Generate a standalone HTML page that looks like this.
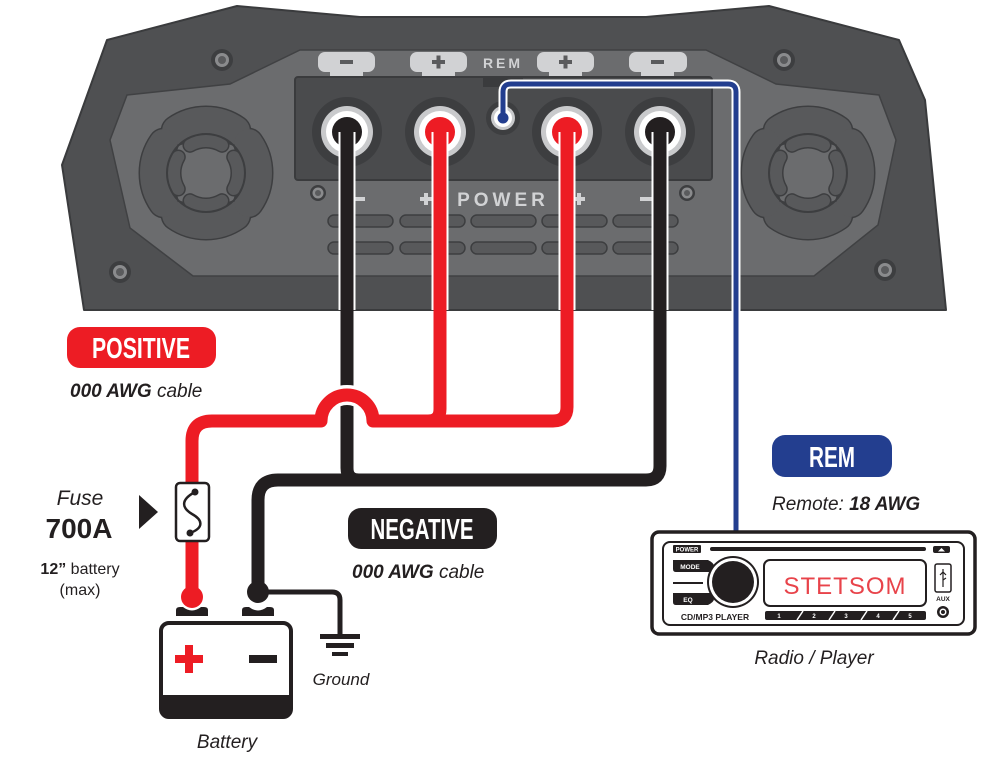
<!DOCTYPE html>
<html><head><meta charset="utf-8"><style>
html,body{margin:0;padding:0;background:#fff;}
svg{display:block;}
text{font-family:"Liberation Sans",sans-serif;}
.nar{font-family:"Liberation Sans Narrow","Liberation Sans",sans-serif;font-weight:bold;}
</style></head><body>
<svg width="998" height="757" viewBox="0 0 998 757" xmlns="http://www.w3.org/2000/svg">
<defs>
<g id="grill">
 <g fill="none" stroke-linecap="round">
  <g stroke="#3d3e40" stroke-width="31">
   <path d="M-29.8 -42.6 A52 52 0 0 1 29.8 -42.6"/><path d="M-29.8 42.6 A52 52 0 0 0 29.8 42.6"/>
   <path d="M-42.6 -29.8 A52 52 0 0 0 -42.6 29.8"/><path d="M42.6 -29.8 A52 52 0 0 1 42.6 29.8"/>
  </g>
  <g stroke="#58595b" stroke-width="28">
   <path d="M-29.8 -42.6 A52 52 0 0 1 29.8 -42.6"/><path d="M-29.8 42.6 A52 52 0 0 0 29.8 42.6"/>
   <path d="M-42.6 -29.8 A52 52 0 0 0 -42.6 29.8"/><path d="M42.6 -29.8 A52 52 0 0 1 42.6 29.8"/>
  </g>
  <circle r="39" stroke="#3d3e40" stroke-width="2"/>
  <g stroke="#3d3e40" stroke-width="15">
   <path d="M-16 -27.7 A32 32 0 0 1 16 -27.7"/><path d="M-16 27.7 A32 32 0 0 0 16 27.7"/>
   <path d="M-27.7 -16 A32 32 0 0 0 -27.7 16"/><path d="M27.7 -16 A32 32 0 0 1 27.7 16"/>
  </g>
  <g stroke="#58595b" stroke-width="12">
   <path d="M-16 -27.7 A32 32 0 0 1 16 -27.7"/><path d="M-16 27.7 A32 32 0 0 0 16 27.7"/>
   <path d="M-27.7 -16 A32 32 0 0 0 -27.7 16"/><path d="M27.7 -16 A32 32 0 0 1 27.7 16"/>
  </g>
 </g>
</g>
<g id="screw"><circle r="11" fill="#3d3e40"/><circle r="7" fill="#8a8b8d"/><circle r="4" fill="#5a5b5d"/></g>
<g id="sscrew"><circle r="8" fill="#3d3e40"/><circle r="5.5" fill="#8a8b8d"/><circle r="3" fill="#5a5b5d"/></g>
</defs>

<!-- amplifier body -->
<path d="M107 40 L237 6 L360 17 L646 17 L769 6 L899 40 L925 100 L946 310 L84 310 L62 165 Z" fill="#4f5052" stroke="#3a3b3d" stroke-width="2" stroke-linejoin="round"/>
<path d="M127 95 L230 84 L300 50 L706 50 L776 84 L879 95 L896 140 L878 225 L814 276 L193 276 L130 228 L110 140 Z" fill="#6b6c6e" stroke="#404143" stroke-width="1.5"/>
<use href="#grill" x="206" y="173"/>
<use href="#grill" x="808" y="173"/>
<use href="#screw" x="222" y="60"/><use href="#screw" x="784" y="60"/>
<use href="#screw" x="120" y="272"/><use href="#screw" x="885" y="270"/>
<use href="#sscrew" x="318" y="193"/><use href="#sscrew" x="687" y="193"/>

<!-- tabs -->
<g fill="#d1d2d4">
 <rect x="318" y="52" width="57" height="20" rx="7"/><rect x="330" y="70" width="33" height="8" rx="2"/>
 <rect x="410" y="52" width="57" height="20" rx="7"/><rect x="422" y="70" width="33" height="8" rx="2"/>
 <rect x="537" y="52" width="57" height="20" rx="7"/><rect x="549" y="70" width="33" height="8" rx="2"/>
 <rect x="629" y="52" width="58" height="20" rx="7"/><rect x="641" y="70" width="33" height="8" rx="2"/>
</g>
<g fill="#5a5b5d">
 <rect x="340" y="60" width="13" height="4"/>
 <rect x="432" y="60" width="13" height="4"/><rect x="436.5" y="55.5" width="4" height="13"/>
 <rect x="559" y="60" width="13" height="4"/><rect x="563.5" y="55.5" width="4" height="13"/>
 <rect x="651" y="60" width="13" height="4"/>
</g>
<text x="503" y="68" fill="#d1d2d4" font-size="14" font-weight="bold" text-anchor="middle" letter-spacing="3">REM</text>

<!-- terminal block -->
<rect x="295" y="77" width="417" height="103" rx="3" fill="#4a4b4d" stroke="#3a3b3d" stroke-width="2"/>
<rect x="483" y="77" width="40" height="10" fill="#3a3b3d"/>
<g>
 <circle cx="347" cy="132" r="35" fill="#3d3e40"/><circle cx="347" cy="132" r="26" fill="#c9cacc"/><circle cx="347" cy="132" r="21" fill="#fff"/><circle cx="347" cy="132" r="15" fill="#231f20"/>
 <circle cx="440" cy="132" r="35" fill="#3d3e40"/><circle cx="440" cy="132" r="26" fill="#c9cacc"/><circle cx="440" cy="132" r="21" fill="#fff"/><circle cx="440" cy="132" r="15" fill="#ed1c24"/>
 <circle cx="567" cy="132" r="35" fill="#3d3e40"/><circle cx="567" cy="132" r="26" fill="#c9cacc"/><circle cx="567" cy="132" r="21" fill="#fff"/><circle cx="567" cy="132" r="15" fill="#ed1c24"/>
 <circle cx="660" cy="132" r="35" fill="#3d3e40"/><circle cx="660" cy="132" r="26" fill="#c9cacc"/><circle cx="660" cy="132" r="21" fill="#fff"/><circle cx="660" cy="132" r="15" fill="#231f20"/>
 <circle cx="503" cy="118" r="17" fill="#3d3e40"/><circle cx="503" cy="118" r="12" fill="#c9cacc"/><circle cx="503" cy="118" r="9" fill="#fff"/>
</g>

<!-- power labels and vents -->
<text x="503" y="206" fill="#d1d2d4" font-size="19" font-weight="bold" text-anchor="middle" letter-spacing="4">POWER</text>
<g fill="#d1d2d4">
 <rect x="353" y="197" width="12" height="4"/>
 <rect x="420" y="197" width="12" height="4"/><rect x="424" y="193" width="4" height="12"/>
 <rect x="573" y="197" width="12" height="4"/><rect x="577" y="193" width="4" height="12"/>
 <rect x="640" y="197" width="12" height="4"/>
</g>
<g fill="#58595b" stroke="#3d3e40" stroke-width="1.5">
 <rect x="328" y="215" width="65" height="12" rx="6"/><rect x="400" y="215" width="65" height="12" rx="6"/><rect x="471" y="215" width="65" height="12" rx="6"/><rect x="542" y="215" width="65" height="12" rx="6"/><rect x="613" y="215" width="65" height="12" rx="6"/>
 <rect x="328" y="242" width="65" height="12" rx="6"/><rect x="400" y="242" width="65" height="12" rx="6"/><rect x="471" y="242" width="65" height="12" rx="6"/><rect x="542" y="242" width="65" height="12" rx="6"/><rect x="613" y="242" width="65" height="12" rx="6"/>
</g>

<!-- blue REM wire -->
<path d="M503 118 L503 92 Q503 84 511 84 L728 84 Q736 84 736 92 L736 533" fill="none" stroke="#fff" stroke-width="9"/>
<path d="M503 118 L503 92 Q503 84 511 84 L728 84 Q736 84 736 92 L736 533" fill="none" stroke="#233e8f" stroke-width="5"/>
<circle cx="503" cy="118" r="5.5" fill="#233e8f"/>

<!-- wires: white outlines in amp area -->
<g fill="none" stroke="#fff" stroke-width="17">
 <path d="M347 132 L347 310"/><path d="M440 132 L440 310"/><path d="M567 132 L567 310"/><path d="M660 132 L660 310"/>
</g>
<!-- black wires -->
<g fill="none" stroke="#231f20" stroke-width="13" stroke-linejoin="round">
 <path d="M347 132 L347 468 Q347 480 359 480"/>
 <path d="M660 132 L660 466 Q660 480 646 480 L278 480 Q258 480 258 500 L258 592"/>
</g>
<path d="M258 592 L332 592 Q340 592 340 600 L340 636" fill="none" stroke="#231f20" stroke-width="5"/>
<g fill="#231f20">
 <rect x="320" y="634" width="40" height="5"/><rect x="326" y="643" width="28" height="5"/><rect x="332" y="652" width="16" height="4"/>
</g>
<circle cx="258" cy="592" r="11" fill="#231f20"/>
<!-- red wires with hop -->
<path d="M373 421 A26 26 0 0 0 321 421" fill="none" stroke="#fff" stroke-width="20"/>
<g fill="none" stroke="#ed1c24" stroke-width="13" stroke-linejoin="round">
 <path d="M440 132 L440 409 Q440 421 428 421"/>
 <path d="M567 132 L567 407 Q567 421 553 421 L373 421 A26 26 0 0 0 321 421 L212 421 Q192 421 192 441 L192 597"/>
</g>
<circle cx="192" cy="597" r="11" fill="#ed1c24"/>

<!-- fuse -->
<rect x="176" y="483" width="33" height="58" rx="4" fill="#fff" stroke="#231f20" stroke-width="2.5"/>
<path d="M195 492 C180 500 182 508 192 514 C203 520 204 528 190 533" fill="none" stroke="#231f20" stroke-width="2.5"/>
<circle cx="195" cy="492" r="3.5" fill="#231f20"/><circle cx="190" cy="533" r="3.5" fill="#231f20"/>
<path d="M139 495 L158 512 L139 529 Z" fill="#231f20"/>
<text x="80" y="505" font-size="21" font-style="italic" fill="#231f20" text-anchor="middle">Fuse</text>
<text x="79" y="538" font-size="28" font-weight="bold" fill="#231f20" text-anchor="middle">700A</text>
<text x="80" y="574" font-size="16" fill="#231f20" text-anchor="middle"><tspan font-weight="bold">12”</tspan> battery</text>
<text x="80" y="595" font-size="16" fill="#231f20" text-anchor="middle">(max)</text>

<!-- battery -->
<path d="M176 616 L176 610 Q176 607 180 607 L183 607 Q192 614 201 607 L204 607 Q208 607 208 610 L208 616 Z" fill="#231f20"/>
<path d="M242 616 L242 610 Q242 607 246 607 L249 607 Q258 614 267 607 L270 607 Q274 607 274 610 L274 616 Z" fill="#231f20"/>
<rect x="161" y="623" width="130" height="94" rx="8" fill="#fff" stroke="#231f20" stroke-width="4"/>
<path d="M161 695 L291 695 L291 709 Q291 717 283 717 L169 717 Q161 717 161 709 Z" fill="#231f20"/>
<rect x="175" y="655" width="28" height="8" fill="#ed1c24"/><rect x="185" y="645" width="8" height="28" fill="#ed1c24"/>
<rect x="249" y="655" width="28" height="8" fill="#231f20"/>
<text x="227" y="748" font-size="19" font-style="italic" fill="#231f20" text-anchor="middle">Battery</text>
<text x="341" y="685" font-size="17" font-style="italic" fill="#231f20" text-anchor="middle">Ground</text>

<!-- labels -->
<rect x="67" y="327" width="149" height="41" rx="13" fill="#ed1c24"/>
<text x="141" y="358" class="nar" font-size="29" fill="#fff" text-anchor="middle" textLength="98" lengthAdjust="spacingAndGlyphs">POSITIVE</text>
<text x="70" y="397" font-size="19" font-style="italic" fill="#231f20"><tspan font-weight="bold">000 AWG</tspan> cable</text>
<rect x="348" y="508" width="149" height="41" rx="13" fill="#231f20"/>
<text x="422" y="539" class="nar" font-size="29" fill="#fff" text-anchor="middle" textLength="103" lengthAdjust="spacingAndGlyphs">NEGATIVE</text>
<text x="352" y="578" font-size="19" font-style="italic" fill="#231f20"><tspan font-weight="bold">000 AWG</tspan> cable</text>
<rect x="772" y="435" width="120" height="42" rx="13" fill="#233e8f"/>
<text x="832" y="467" class="nar" font-size="29" fill="#fff" text-anchor="middle" textLength="46" lengthAdjust="spacingAndGlyphs">REM</text>
<text x="772" y="510" font-size="19" font-style="italic" fill="#231f20">Remote: <tspan font-weight="bold">18 AWG</tspan></text>

<!-- radio -->
<rect x="652" y="532" width="323" height="102" rx="7" fill="#fff" stroke="#231f20" stroke-width="3.5"/>
<rect x="663" y="542" width="301" height="83" rx="7" fill="#fff" stroke="#231f20" stroke-width="2"/>
<rect x="673" y="545" width="28" height="8" rx="1" fill="#231f20"/>
<text x="687" y="551.5" font-size="6" font-weight="bold" fill="#fff" text-anchor="middle">POWER</text>
<rect x="710" y="547" width="216" height="4" rx="2" fill="#231f20"/>
<rect x="933" y="546" width="17" height="7" rx="2" fill="#231f20"/>
<path d="M938 551.5 L941.5 548 L945 551.5 Z" fill="#fff"/>
<path d="M673 560 L708 560 Q714 563 714 566 L714 572 L676 572 Q673 572 673 569 Z" fill="#231f20"/>
<text x="690" y="569" font-size="6.5" font-weight="bold" fill="#fff" text-anchor="middle">MODE</text>
<rect x="673" y="582" width="30" height="2" fill="#231f20"/>
<path d="M673 593 L714 593 L714 599 Q714 602 708 605 L676 605 Q673 605 673 602 Z" fill="#231f20"/>
<text x="688" y="602" font-size="6.5" font-weight="bold" fill="#fff" text-anchor="middle">EQ</text>
<circle cx="733" cy="582" r="26" fill="#231f20"/><circle cx="733" cy="582" r="24" fill="#fff"/><circle cx="733" cy="582" r="21" fill="#231f20"/>
<rect x="764" y="560" width="162" height="46" rx="6" fill="#fff" stroke="#231f20" stroke-width="2"/>
<text x="845" y="594" font-family="Liberation Mono, monospace" font-size="24" fill="#e8434a" text-anchor="middle" letter-spacing="1">STETSOM</text>
<rect x="935" y="564" width="16" height="28" rx="2" fill="#fff" stroke="#231f20" stroke-width="1.5"/>
<path d="M943 569 L943 587 M940 575 L943 572 L946 575 M943 580 L946 578" fill="none" stroke="#231f20" stroke-width="1.2"/>
<text x="943" y="601" font-size="6.5" font-weight="bold" fill="#231f20" text-anchor="middle">AUX</text>
<circle cx="943" cy="612" r="6" fill="#231f20"/><circle cx="943" cy="612" r="3.5" fill="#fff"/><circle cx="943" cy="612" r="2" fill="#231f20"/>
<text x="715" y="620" font-size="8.5" font-weight="bold" fill="#231f20" text-anchor="middle">CD/MP3 PLAYER</text>
<rect x="765" y="611" width="161" height="9" rx="2" fill="#231f20"/>
<g stroke="#fff" stroke-width="1.5"><path d="M797 620 L803 611"/><path d="M829 620 L835 611"/><path d="M861 620 L867 611"/><path d="M893 620 L899 611"/></g>
<g font-size="6" font-weight="bold" fill="#fff" text-anchor="middle">
<text x="779" y="618">1</text><text x="814" y="618">2</text><text x="846" y="618">3</text><text x="878" y="618">4</text><text x="910" y="618">5</text></g>
<text x="814" y="664" font-size="19" font-style="italic" fill="#231f20" text-anchor="middle">Radio / Player</text>
</svg>
</body></html>
